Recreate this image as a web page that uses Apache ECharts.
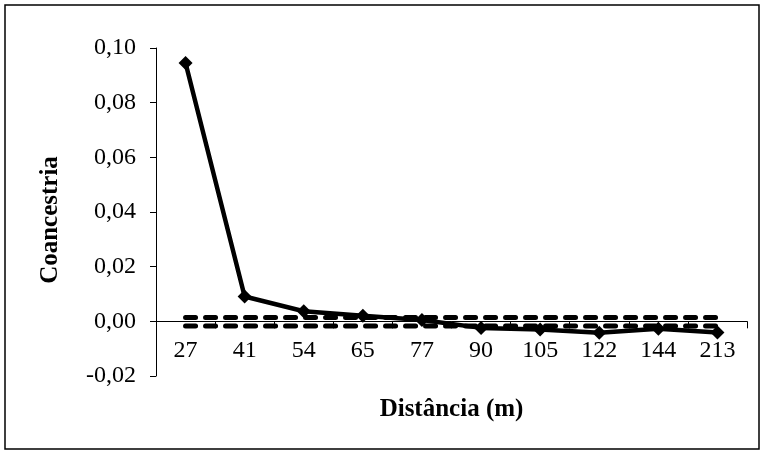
<!DOCTYPE html>
<html>
<head>
<meta charset="utf-8">
<script src="https://cdn.jsdelivr.net/npm/echarts@6/dist/echarts.min.js"></script>
<style>
  html, body { margin: 0; padding: 0; background: #fff; }
  #chart { width: 761px; height: 451px; }
</style>
</head>
<body>
<div id="chart"></div>
<script>
// distancias (m) e coancestria media por classe
var categorias = ['27', '41', '54', '65', '77', '90', '105', '122', '144', '213'];
var coancestria = [0.0945, 0.0091, 0.0037, 0.0020, 0.0005, -0.0024, -0.0030, -0.0042, -0.0027, -0.0041];
// limites do intervalo de confianca
var limiteSup = [0.0014, 0.0014, 0.0014, 0.0014, 0.0014, 0.0014, 0.0014, 0.0014, 0.0014, 0.0014];
var limiteInf = [-0.0017, -0.0017, -0.0017, -0.0017, -0.0017, -0.0017, -0.0017, -0.0017, -0.0017, -0.0017];

var fonte = '"Liberation Serif", "Times New Roman", serif';

var yMin = -0.02, yMax = 0.10;
var gridTop = 48, gridBottom = 75;
// eixo x passa no zero: desloca o eixo para cima a partir da base do grid
var alturaGrid = 451 - gridTop - gridBottom;
var deslocX = -alturaGrid * (0 - yMin) / (yMax - yMin);

var chart = echarts.init(document.getElementById('chart'));

function linhaTracejada(dados) {
    return {
        type: 'line',
        data: dados,
        symbol: 'none',
        silent: true,
        z: 2,
        lineStyle: { color: '#000', width: 5, type: [10, 10], cap: 'round' }
    };
}

chart.setOption({
    animation: false,
    backgroundColor: '#fff',
    graphic: [{
        type: 'rect',
        shape: { x: 5, y: 5, width: 754, height: 444 },
        style: { fill: 'none', stroke: '#000', lineWidth: 1.5 },
        silent: true
    }],
    grid: { left: 156, right: 14, top: gridTop, bottom: gridBottom, outerBoundsMode: 'none' },
    xAxis: {
        type: 'category',
        data: categorias,
        offset: deslocX,
        name: 'Distância (m)',
        nameLocation: 'middle',
        nameGap: 76,
        nameTextStyle: { fontFamily: fonte, fontSize: 25, fontWeight: 'bold', color: '#000' },
        axisLine: { onZero: false, lineStyle: { color: '#000', width: 1 } },
        axisTick: { show: true, length: 7, lineStyle: { color: '#000' } },
        axisLabel: { fontFamily: fonte, fontSize: 24, color: '#000', margin: 17 },
        splitLine: { show: false }
    },
    yAxis: {
        type: 'value',
        min: yMin,
        max: yMax,
        interval: 0.02,
        name: 'Coancestria',
        nameLocation: 'middle',
        nameGap: 93,
        nameTextStyle: { fontFamily: fonte, fontSize: 25, fontWeight: 'bold', color: '#000', padding: [0, 16, 0, 0] },
        axisLine: { show: true, lineStyle: { color: '#000', width: 1 } },
        axisTick: { show: true, length: 6, lineStyle: { color: '#000' } },
        axisLabel: {
            fontFamily: fonte, fontSize: 24, color: '#000', margin: 20,
            formatter: function (v) { return v.toFixed(2).replace('.', ','); }
        },
        splitLine: { show: false }
    },
    series: [
        linhaTracejada(limiteSup),
        linhaTracejada(limiteInf),
        {
            type: 'line',
            data: coancestria,
            symbol: 'diamond',
            symbolSize: 14,
            z: 3,
            itemStyle: { color: '#000' },
            lineStyle: { color: '#000', width: 4.5 }
        }
    ]
});
</script>
</body>
</html>
